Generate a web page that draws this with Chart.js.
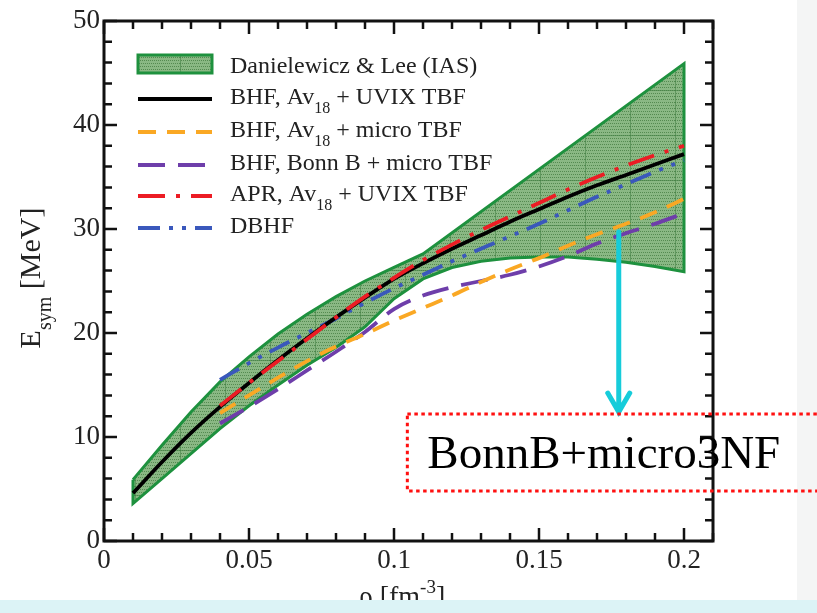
<!DOCTYPE html>
<html>
<head>
<meta charset="utf-8">
<script src="https://cdn.jsdelivr.net/npm/chart.js@4.4.1/dist/chart.umd.min.js"></script>
<style>
  html, body { margin: 0; padding: 0; }
  body { width: 817px; height: 613px; overflow: hidden; position: relative;
         background: linear-gradient(to right, #fff 0, #fff 797px, #f4f5f5 797px); }
  #wrap { position: absolute; left: 0; top: 0; width: 817px; height: 613px; }
  #strip { position: absolute; left: 0; top: 600px; width: 817px; height: 13px; background: #dcf3f6; }
</style>
</head>
<body>
<div id="wrap"><canvas id="chart" width="817" height="613"></canvas></div>
<div id="strip"></div>
<script>
// ---- data (rho in fm^-3, Esym in MeV) ----
const rhoTicks = [0, 0.05, 0.1, 0.15, 0.2];
const esymTicks = [0, 10, 20, 30, 40, 50];

// Danielewicz & Lee band edges
const rhoUpper = [0.01, 0.02, 0.03, 0.04, 0.05, 0.06, 0.07, 0.08, 0.09, 0.1, 0.11, 0.2];
const bandUpper = [5.9, 9.2, 12.4, 15.3, 17.7, 19.9, 21.8, 23.5, 25.0, 26.3, 27.6, 45.9];
const rhoLower = [0.01, 0.02, 0.03, 0.04, 0.05, 0.06, 0.07, 0.08, 0.09, 0.1, 0.11, 0.12, 0.13, 0.14, 0.15, 0.16, 0.17, 0.18, 0.19, 0.2];
const bandLower = [3.6, 6.0, 8.4, 10.8, 13.0, 15.0, 16.9, 18.6, 20.6, 23.3, 25.2, 26.3, 26.9, 27.2, 27.3, 27.3, 27.1, 26.8, 26.4, 25.9];

// BHF Av18 + UVIX
const rhoBHF = [0.01, 0.02, 0.03, 0.04, 0.05, 0.06, 0.07, 0.08, 0.09, 0.1, 0.11, 0.12, 0.13, 0.14, 0.15, 0.16, 0.17, 0.18, 0.19, 0.2];
const esymAv18Uvix = [4.6, 7.6, 10.4, 12.9, 15.2, 17.4, 19.5, 21.5, 23.4, 25.2, 26.7, 28.1, 29.4, 30.7, 31.9, 33.1, 34.2, 35.2, 36.2, 37.2];

// other calculations start at 0.04
const rhoCalc = [0.04, 0.05, 0.06, 0.07, 0.08, 0.09, 0.1, 0.11, 0.12, 0.13, 0.14, 0.15, 0.16, 0.17, 0.18, 0.19, 0.2];
const esymAv18Micro = [12.3, 14.0, 15.7, 17.3, 18.7, 19.9, 21.2, 22.4, 23.6, 24.9, 26.1, 27.2, 28.4, 29.5, 30.5, 31.6, 32.9];
const esymBonnMicro = [11.3, 12.9, 14.6, 16.4, 18.2, 20.1, 22.3, 23.6, 24.4, 25.0, 25.6, 26.4, 27.4, 28.6, 29.6, 30.5, 31.5];
const esymAPR = [13.0, 15.2, 17.3, 19.4, 21.5, 23.5, 25.3, 27.0, 28.5, 29.9, 31.2, 32.5, 33.8, 35.0, 36.1, 37.1, 38.0];
const esymDBHF = [15.5, 17.1, 18.6, 20.0, 21.4, 22.9, 24.3, 25.6, 26.9, 28.1, 29.3, 30.5, 31.8, 33.1, 34.3, 35.5, 36.6];

// annotation (data coords)
const noteText = 'BonnB+micro3NF';
const noteArrow = { x: 0.1775, top: 29.7, bottom: 12.4 };
const noteBox = { left: 0.1046, top: 12.2, bottom: 4.8 };

const SERIF = '"Liberation Serif", "Times New Roman", serif';

// dotted green fill like the original figure
function makeBandPattern() {
	const pc = document.createElement('canvas');
	pc.width = 45; pc.height = 45;
	const p = pc.getContext('2d');
	p.fillStyle = 'rgb(138,184,132)';
	p.fillRect(0, 0, 45, 45);
	p.fillStyle = 'rgb(84,138,80)';
	for (let i = 0; i < 45; i += 3) {
		for (let j = (i / 3) % 2; j < 45; j += 2) {
			p.fillRect(j, i, 1, 1);
		}
	}
	p.fillStyle = 'rgba(70,130,70,0.6)';
	p.fillRect(0, 0, 45, 1);
	p.fillRect(0, 0, 1, 45);
	return p.createPattern(pc, 'repeat');
}

const pts = (xs, ys) => xs.map((x, i) => ({ x: x, y: ys[i] }));

// text with _{sub} and ^{sup}
function richText(c, x, y, text, size) {
	const parts = text.split(/([_^])\{([^}]*)\}/);
	let i = 0;
	while (i < parts.length) {
		const plain = parts[i];
		if (plain) {
			c.font = size + 'px ' + SERIF;
			c.fillText(plain, x, y);
			x += c.measureText(plain).width;
		}
		if (i + 2 < parts.length) {
			const mark = parts[i + 1], s = parts[i + 2];
			c.font = Math.round(size * 0.68) + 'px ' + SERIF;
			c.fillText(s, x, y + (mark === '_' ? size * 0.36 : -size * 0.42));
			x += c.measureText(s).width;
		}
		i += 3;
	}
	return x;
}
function richWidth(c, text, size) {
	c.save();
	c.globalAlpha = 0;
	const w = richText(c, 0, 0, text, size);
	c.restore();
	return w;
}

const bandPattern = makeBandPattern();
const legendBaselines = [73, 104, 137, 170, 201, 233];

const decorations = {
	id: 'decorations',
	afterDraw(chart) {
		const c = chart.ctx;
		const xs = chart.scales.x, ys = chart.scales.y;
		const a = chart.chartArea;
		c.save();

		// frame and inward ticks on all four sides
		c.strokeStyle = '#111';
		c.lineWidth = 3;
		c.setLineDash([]);
		c.strokeRect(a.left, a.top, a.right - a.left, a.bottom - a.top);
		c.lineWidth = 2.5;
		c.beginPath();
		for (let i = 0; i <= 21; i++) {
			const px = xs.getPixelForValue(i / 100);
			const len = i % 5 === 0 ? 13 : 8;
			c.moveTo(px, a.bottom); c.lineTo(px, a.bottom - len);
			c.moveTo(px, a.top); c.lineTo(px, a.top + len);
		}
		for (let v = 0; v <= 50; v += 2) {
			const py = ys.getPixelForValue(v);
			const len = v % 10 === 0 ? 13 : 8;
			c.moveTo(a.left, py); c.lineTo(a.left + len, py);
			c.moveTo(a.right, py); c.lineTo(a.right - len, py);
		}
		c.stroke();

		// axis titles
		c.fillStyle = '#222';
		c.textBaseline = 'alphabetic';
		c.textAlign = 'left';
		const yTitle = 'E_{sym} [MeV]';
		c.save();
		c.translate(40, 278);
		c.rotate(-Math.PI / 2);
		richText(c, -richWidth(c, yTitle, 30) / 2, 0, yTitle, 30);
		c.restore();
		const xTitle = 'ρ [fm^{-3}]';
		richText(c, 402 - richWidth(c, xTitle, 28) / 2, 605, xTitle, 28);

		// legend
		const lx0 = 138, lx1 = 212, tx = 230;
		chart.data.datasets.forEach((ds, i) => {
			const base = legendBaselines[i];
			if (ds.fill) {
				c.fillStyle = ds.backgroundColor;
				c.fillRect(lx0, base - 18, lx1 - lx0, 18);
				c.strokeStyle = ds.borderColor;
				c.lineWidth = 3;
				c.setLineDash([]);
				c.strokeRect(lx0, base - 18, lx1 - lx0, 18);
			} else {
				c.strokeStyle = ds.borderColor;
				c.lineWidth = ds.borderWidth;
				c.setLineDash(ds.borderDash || []);
				c.beginPath();
				c.moveTo(lx0, base - 5);
				c.lineTo(lx1, base - 5);
				c.stroke();
			}
			c.setLineDash([]);
			c.fillStyle = '#222';
			richText(c, tx, base, ds.label, 24);
		});

		// annotation: arrow + dotted box with label
		const ax = xs.getPixelForValue(noteArrow.x);
		const at = ys.getPixelForValue(noteArrow.top);
		const ab = ys.getPixelForValue(noteArrow.bottom);
		c.strokeStyle = 'rgb(22,204,218)';
		c.lineWidth = 5;
		c.lineCap = 'round';
		c.beginPath();
		c.moveTo(ax, at); c.lineTo(ax, ab);
		c.moveTo(ax - 11, ab - 19); c.lineTo(ax, ab); c.lineTo(ax + 11, ab - 19);
		c.stroke();
		c.lineCap = 'butt';

		const bl = xs.getPixelForValue(noteBox.left);
		const bt = ys.getPixelForValue(noteBox.top);
		const bb = ys.getPixelForValue(noteBox.bottom);
		c.strokeStyle = '#ff1010';
		c.lineWidth = 3;
		c.setLineDash([3.5, 3.5]);
		c.strokeRect(bl, bt, chart.width + 20 - bl, bb - bt);
		c.setLineDash([]);
		c.fillStyle = '#000';
		c.font = '47px ' + SERIF;
		c.fillText(noteText, bl + 20, bb - 23);

		c.restore();
	}
};

const curve = (label, xs, ys, color, dash, order) => ({
	label: label,
	data: pts(xs, ys),
	borderColor: color,
	borderWidth: 3.8,
	borderDash: dash,
	pointRadius: 0,
	fill: false,
	cubicInterpolationMode: 'monotone',
	order: order
});

const bandShape = pts(rhoUpper, bandUpper)
	.concat(pts(rhoLower, bandLower).reverse(), [{ x: rhoUpper[0], y: bandUpper[0] }]);

new Chart(document.getElementById('chart'), {
	type: 'line',
	data: {
		datasets: [
			{
				label: 'Danielewicz & Lee (IAS)',
				data: bandShape,
				fill: 'shape',
				backgroundColor: bandPattern,
				borderColor: 'rgb(30,145,62)',
				borderWidth: 3,
				pointRadius: 0,
				tension: 0,
				order: 10
			},
			curve('BHF, Av_{18} + UVIX TBF', rhoBHF, esymAv18Uvix, '#000000', [], 2),
			curve('BHF, Av_{18} + micro TBF', rhoCalc, esymAv18Micro, 'rgb(250,168,36)', [18, 11], 4),
			curve('BHF, Bonn B + micro TBF', rhoCalc, esymBonnMicro, 'rgb(110,62,170)', [27, 13], 5),
			curve('APR, Av_{18} + UVIX TBF', rhoCalc, esymAPR, 'rgb(236,28,36)', [27, 11, 4, 11], 1),
			curve('DBHF', rhoCalc, esymDBHF, 'rgb(58,88,188)', [22, 9, 4, 9, 4, 9], 3)
		]
	},
	options: {
		responsive: false,
		animation: false,
		layout: { padding: { top: 21, right: 104, bottom: 0, left: 0 } },
		plugins: {
			legend: { display: false },
			tooltip: { enabled: false }
		},
		scales: {
			x: {
				type: 'linear',
				min: 0,
				max: 0.21,
				afterBuildTicks: (s) => { s.ticks = rhoTicks.map(v => ({ value: v })); },
				afterFit: (s) => { s.height = 72; },
				grid: { display: false, drawTicks: false },
				border: { display: false },
				ticks: {
					font: { family: SERIF, size: 27 },
					color: '#222',
					padding: 4,
					maxRotation: 0,
					autoSkip: false,
					callback: (v) => String(v)
				}
			},
			y: {
				type: 'linear',
				min: 0,
				max: 50,
				afterBuildTicks: (s) => { s.ticks = esymTicks.map(v => ({ value: v })); },
				afterFit: (s) => { s.width = 104; },
				grid: { display: false, drawTicks: false },
				border: { display: false },
				ticks: {
					font: { family: SERIF, size: 27 },
					color: '#222',
					padding: 4,
					callback: (v) => String(v)
				}
			}
		}
	},
	plugins: [decorations]
});
</script>
</body>
</html>
